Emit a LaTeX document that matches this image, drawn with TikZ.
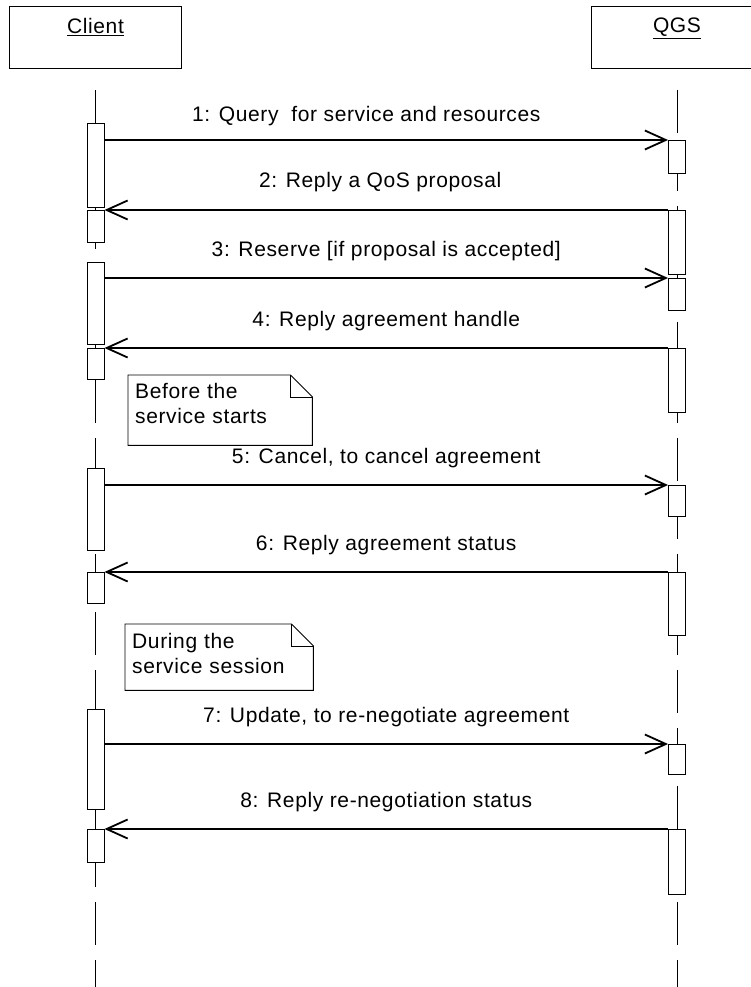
\documentclass[tikz,border=0pt]{standalone}
\usepackage{fontspec}
\setmainfont{Liberation Sans}[LetterSpace=3.0]
\usepackage{tikz}
\usetikzlibrary{arrows.meta,positioning,calc}
\tikzset{
  head/.style={rectangle,draw=black,line width=0.9pt,minimum width=172pt,
               minimum height=62pt,inner sep=0pt},
  headtxt/.style={anchor=north,yshift=-9pt},
  lifeline/.style={draw=black,line width=0.7pt,dash pattern=on 43pt off 15pt},
  actbar/.style={rectangle,draw=black,fill=white,line width=0.9pt,anchor=north,
                 minimum width=17pt,inner sep=0pt},
  msg/.style={-{Straight Barb[length=21pt,width=19pt,line width=1.8pt]},
              draw=black,line width=1.2pt},
  msglbl/.style={anchor=base,pos=0.5,yshift=22pt,inner sep=0pt},
  note/.style={anchor=north west,align=left,inner xsep=7pt,inner ysep=4pt},
  notebox/.style={draw=black,line width=0.9pt,line join=miter},
}

\begin{document}
\begin{tikzpicture}[x=1pt,y=-1pt,font=\fontsize{21pt}{25pt}\selectfont]
  \clip (0,0) rectangle (751,987);
  % --- lifeline heads ---
  \node[head,label={[headtxt]north:\underline{Client}}] (client) at (95.5,37) {};
  \node[head,label={[headtxt]north:\underline{QGS}}]    (qgs)    at (677,37)  {};
  \coordinate (bottom) at (0,987);
  \draw[lifeline] ([yshift=-22pt]client.south) -- (client.south |- bottom);
  \draw[lifeline] ([yshift=-22pt]qgs.south)    -- (qgs.south |- bottom);
  % --- activation bars (client) ---
  \node[actbar,minimum height=84pt]  (c1) at (95.5,123) {};
  \node[actbar,minimum height=32pt]  (c2) at (95.5,210) {};
  \node[actbar,minimum height=82pt]  (c3) at (95.5,262) {};
  \node[actbar,minimum height=31pt]  (c4) at (95.5,348) {};
  \node[actbar,minimum height=82pt]  (c5) at (95.5,468) {};
  \node[actbar,minimum height=31pt]  (c6) at (95.5,572) {};
  \node[actbar,minimum height=100pt] (c7) at (95.5,709) {};
  \node[actbar,minimum height=33pt]  (c8) at (95.5,829) {};
  % --- activation bars (QGS) ---
  \node[actbar,minimum height=33pt] (q1) at (677,140) {};
  \node[actbar,minimum height=64pt] (q2) at (677,210) {};
  \node[actbar,minimum height=32pt] (q3) at (677,278) {};
  \node[actbar,minimum height=64pt] (q4) at (677,348) {};
  \node[actbar,minimum height=31pt] (q5) at (677,485) {};
  \node[actbar,minimum height=63pt] (q6) at (677,572) {};
  \node[actbar,minimum height=30pt] (q7) at (677,744) {};
  \node[actbar,minimum height=65pt] (q8) at (677,829) {};
  % --- messages ---
  \draw[msg] (c1.east |- q1.north) -- (q1.north west)
    node[msglbl,xshift=-20pt,yshift=-4pt]{1: Query~ for service and resources};
  \draw[msg] (q2.north west) -- (c2.north east)
    node[msglbl,xshift=-6pt]{2: Reply a QoS proposal};
  \draw[msg] (c3.east |- q3.north) -- (q3.north west)
    node[msglbl]{3: Reserve [if proposal is accepted]};
  \draw[msg] (q4.north west) -- (c4.north east)
    node[msglbl]{4: Reply agreement handle};
  \draw[msg] (c5.east |- q5.north) -- (q5.north west)
    node[msglbl]{5: Cancel, to cancel agreement};
  \draw[msg] (q6.north west) -- (c6.north east)
    node[msglbl]{6: Reply agreement status};
  \draw[msg] (c7.east |- q7.north) -- (q7.north west)
    node[msglbl]{7: Update, to re-negotiate agreement};
  \draw[msg] (q8.north west) -- (c8.north east)
    node[msglbl]{8: Reply re-negotiation status};
  % --- notes ---
  \node[note,text width=170pt,text height=19pt,text depth=43pt] (n1) at (128,375)
    {Before the\\service starts};
  \node[note,text width=174pt,text height=20pt,text depth=38pt] (n2) at (125,624)
    {During the\\service session};
  \draw[notebox] (n1.north west) -- ([xshift=-22pt]n1.north east)
    -- ([yshift=-22pt]n1.north east) -- (n1.south east) -- (n1.south west) -- cycle;
  \draw[notebox] ([xshift=-22pt]n1.north east) -- ([xshift=-22pt,yshift=-22pt]n1.north east)
    -- ([yshift=-22pt]n1.north east);
  \draw[notebox] (n2.north west) -- ([xshift=-22pt]n2.north east)
    -- ([yshift=-22pt]n2.north east) -- (n2.south east) -- (n2.south west) -- cycle;
  \draw[notebox] ([xshift=-22pt]n2.north east) -- ([xshift=-22pt,yshift=-22pt]n2.north east)
    -- ([yshift=-22pt]n2.north east);
\end{tikzpicture}
\end{document}
